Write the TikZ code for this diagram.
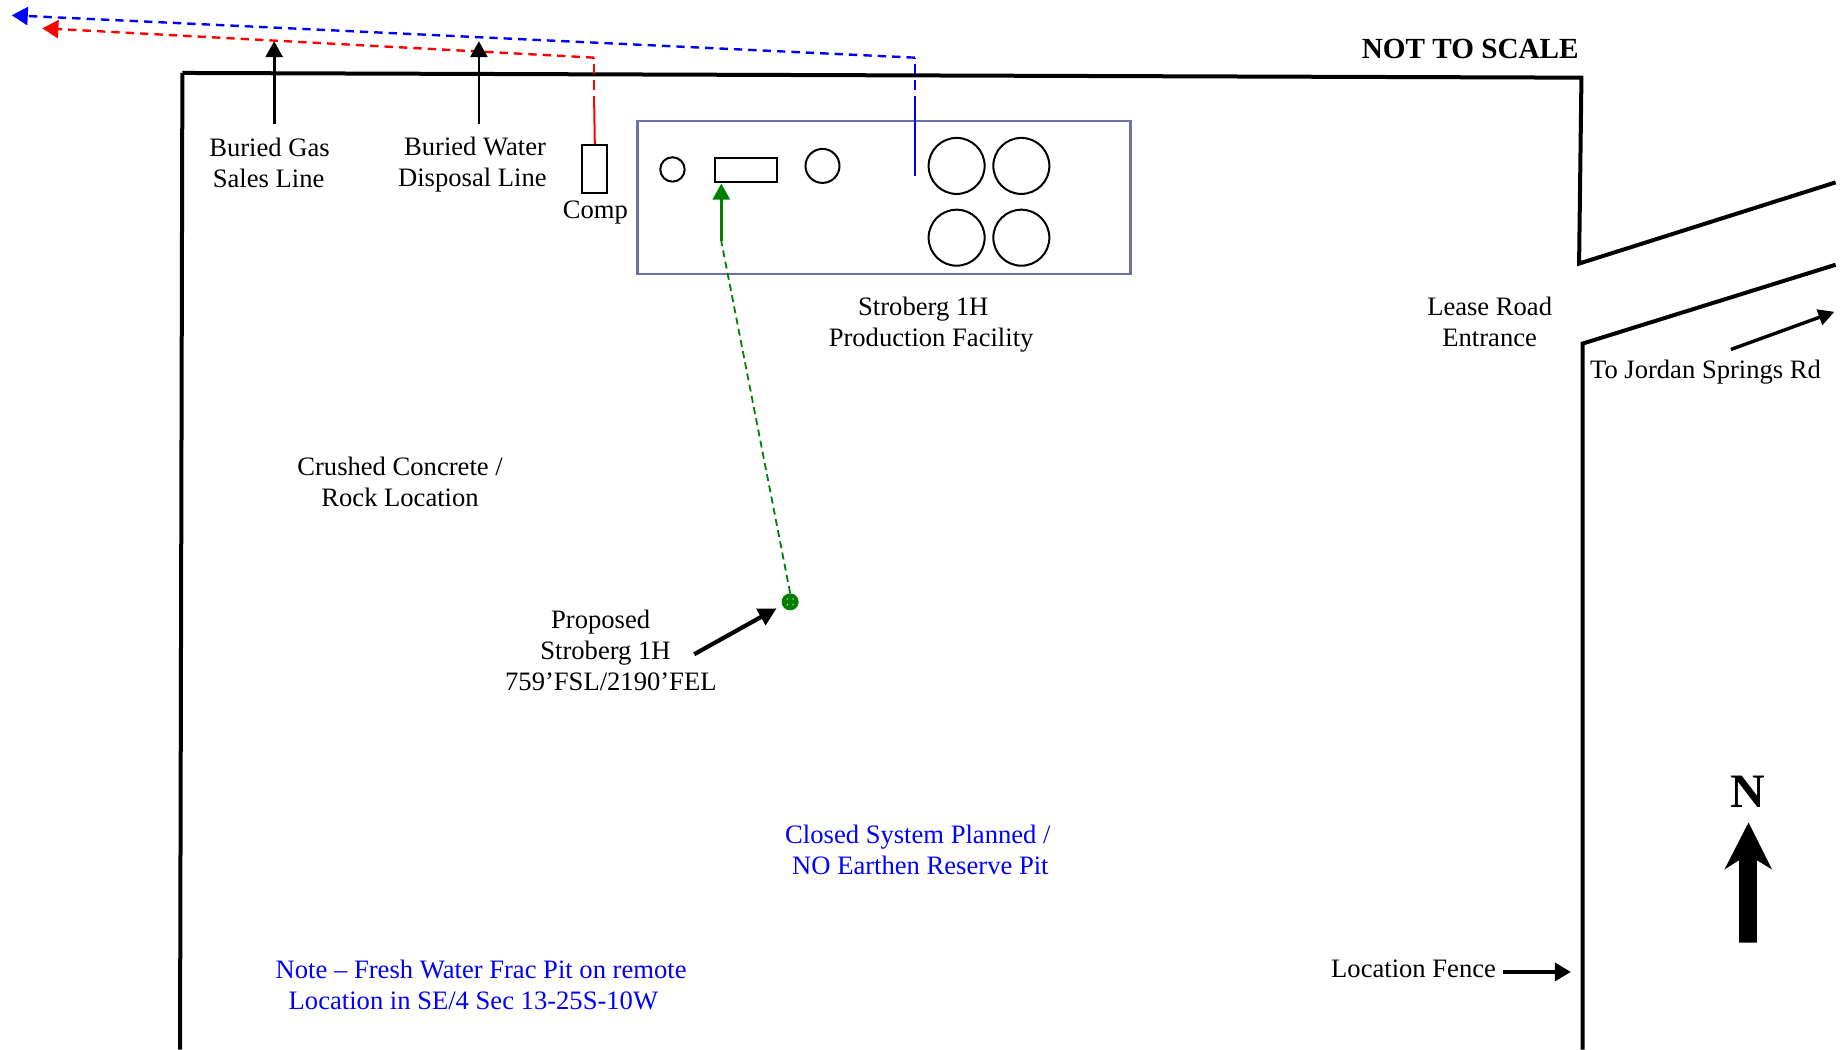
\documentclass[tikz,border=0pt]{standalone}
\usepackage{fontspec}
\setmainfont{Liberation Serif}
\usetikzlibrary{arrows.meta}

\definecolor{facilityblue}{RGB}{112,112,168}
\definecolor{wellgreen}{RGB}{0,128,0}

\tikzset{
	fence/.style={line width=2pt,line join=miter},
	label/.style={font=\fontsize{13.3}{15.5}\selectfont,inner sep=0pt,align=left,anchor=west},
	pointer/.style={line width=1.4pt,-{Triangle[length=8pt,width=8.5pt]}},
	fatpointer/.style={line width=2.1pt,-{Triangle[length=9pt,width=9pt]}},
	equipment/.style={draw,line width=1pt,inner sep=0pt,minimum size=0pt},
	linedash/.style={line width=1.2pt,dash pattern=on 4.2pt off 3pt},
	riser/.style={line width=1pt,dash pattern=on 5pt off 3pt},
}

\begin{document}
\begin{tikzpicture}[x=0.5883pt,y=-0.5883pt]

\useasboundingbox (0,0) rectangle (1568,891.6);

% location fence
\draw[fence] (155,62)--(1344,66)--(1342,224)--(1560,155);
\draw[fence] (155,62)--(153,892);
\draw[fence] (1560,225)--(1345,292)--(1345,892);

\node[font=\fontsize{14.6}{18}\selectfont\bfseries,inner sep=0pt,anchor=east] (scalenote) at (1342,41.5) {NOT TO SCALE};

% production facility
\node[draw=facilityblue,line width=1.3pt,inner sep=0pt,minimum width=246.5pt,minimum height=76.5pt] (facility) at (751.5,168) {};

\node[equipment,circle,minimum size=12.2pt] (separator) at (571.5,144) {};
\node[equipment,minimum width=30.6pt,minimum height=12.4pt] (heater) at (634,144.5) {};
\node[equipment,circle,minimum size=17pt] (scrubber) at (699,141) {};
\node[equipment,minimum width=12.4pt,minimum height=24pt] (comp) at (505.5,143.5) {};

\foreach \xcoord/\tname in {813/a,868/b} {
	\foreach \ycoord/\rname in {141/a,202/b} {
		\node[equipment,circle,minimum size=28pt] (tank\tname\rname) at (\xcoord,\ycoord) {};
	}
}

% buried lines
\coordinate (waterend) at (777.5,150);
\coordinate (waterbreak) at (777.5,90);
\coordinate (watercorner) at (777.5,49);
\coordinate (watertip) at (10,13);
\coordinate (gasbreak) at (505,90);
\coordinate (gascorner) at (505,49);
\coordinate (gastip) at (36,24);

\draw[blue,line width=1.1pt] (waterend)--(waterbreak);
\draw[blue,riser] (waterbreak)--(watercorner);
\draw[blue,linedash,-{Triangle[length=8pt,width=9pt,sep=0pt]}] (watercorner)--(watertip);

\draw[red,line width=1pt] (comp.north)--(gasbreak);
\draw[red,riser] (gasbreak)--(gascorner);
\draw[red,linedash,-{Triangle[length=8pt,width=9pt,sep=0pt]}] (gascorner)--(gastip);

\coordinate (gastail) at (233,105);
\coordinate (gashead) at (233,35);
\coordinate (watertail) at (407,105);
\coordinate (waterhead) at (407,35);
\draw[pointer] (gastail)--(gashead);
\draw[pointer] (watertail)--(waterhead);

\node[label] (gaslabel) at (177.5,138.5) {Buried Gas\\\hspace*{1.8pt}Sales Line};
\node[label] (waterlabel) at (338,140) {\hspace*{3pt}Buried Water\\Disposal Line};
\node[label] (complabel) [anchor=north] at (506,170) {Comp};

\node[label] (facilitylabel) at (704,276) {\hspace*{14.7pt}Stroberg 1H\\Production Facility};
\node[label] (rocklabel) [align=center,anchor=center] at (340,409.5) {Crushed Concrete /\\Rock Location};

% proposed well
\node[circle,fill=wellgreen,inner sep=0pt,minimum size=8.5pt] (well) at (671.5,511.5) {};
\foreach \dotx/\doty in {-2.4/-2.4,2.4/-2.4,-2.4/2.4,2.4/2.4} {
	\fill[white] ({671.5+\dotx},{511.5+\doty}) circle[radius=0.6];
}

\coordinate (flowbreak) at (613,205);
\coordinate (flowtip) at (613,156);
\draw[wellgreen,line width=0.9pt,dash pattern=on 3.5pt off 2.2pt] (well.north)--(flowbreak);
\draw[wellgreen,line width=1.3pt,-{Triangle[length=8pt,width=8.5pt]}] (flowbreak)--(flowtip);

\node[label] (welllabel) at (429,553) {\hspace*{23pt}Proposed\\\hspace*{17.6pt}Stroberg 1H\\759’FSL/2190’FEL};
\coordinate (welltail) at (590,556);
\coordinate (wellhead) at (660,517);
\draw[fatpointer] (welltail)--(wellhead);

% road
\node[label] (roadlabel) [align=center,anchor=center] at (1266,273.5) {Lease Road\\Entrance};
\node[label] (jordanlabel) at (1351,316) {To Jordan Springs Rd};
\coordinate (jordantail) at (1471,297);
\coordinate (jordanhead) at (1559,265);
\draw[line width=1.7pt,-{Triangle[length=8pt,width=8pt]}] (jordantail)--(jordanhead);

% notes in blue
\node[label,text=blue] (pitlabel) at (667,722) {Closed System Planned /\\\hspace*{3.5pt}NO Earthen Reserve Pit};
\node[label,text=blue] (fraclabel) at (234,837) {Note – Fresh Water Frac Pit on remote\\\hspace*{6.5pt}Location in SE/4 Sec 13-25S-10W};

\node[label] (fencelabel) at (1131,823) {Location Fence};
\coordinate (fencetail) at (1277,826);
\coordinate (fencehead) at (1335,826);
\draw[line width=1.8pt,-{Triangle[length=8pt,width=9pt]}] (fencetail)--(fencehead);

% north arrow
\node[font=\fontsize{24}{24}\selectfont\bfseries,inner sep=0pt] (north) at (1485,673) {N};
\fill (1478,801)--(1478,731)--(1465.5,739)--(1486,699)--(1506,739)--(1493,731)--(1493,801)--cycle;

\end{tikzpicture}
\end{document}
